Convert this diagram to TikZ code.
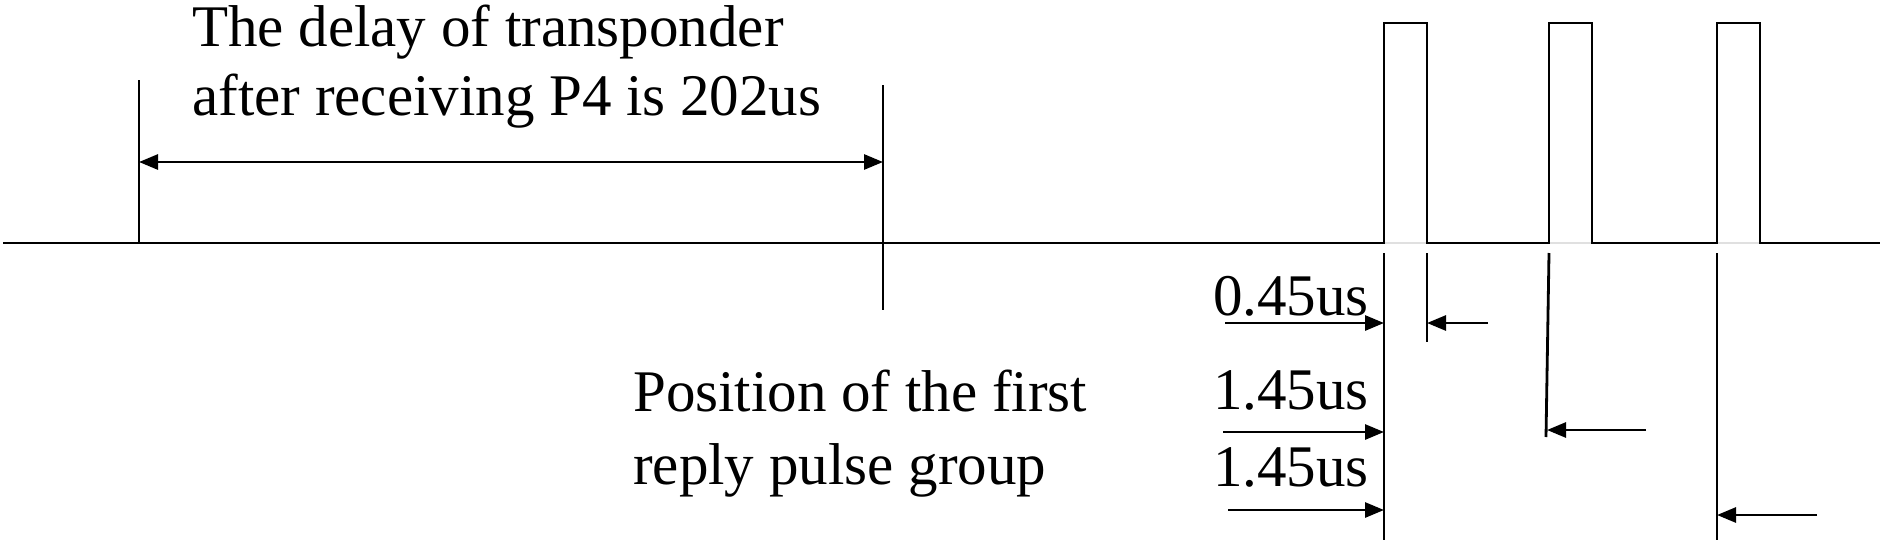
\documentclass[tikz,border=0pt]{standalone}
\usepackage{fontspec}
\setmainfont{Liberation Serif}
\usetikzlibrary{arrows.meta}
\begin{document}
\begin{tikzpicture}[x=1pt,y=-1pt,
  line/.style={line width=2.8pt, line cap=butt, line join=miter},
  dim/.style={line, -{Triangle[length=19pt,width=15pt]}},
  lbl/.style={inner sep=0pt, font=\fontsize{59}{70}\selectfont}]
\useasboundingbox (0,0) rectangle (1884,544);
% waveform
\coordinate (w0) at (3,243);
\coordinate (p1l) at (1384,243); \coordinate (p1r) at (1427,243);
\coordinate (p2l) at (1549,243); \coordinate (p2r) at (1592,243);
\coordinate (p3l) at (1717,243); \coordinate (p3r) at (1760,243);
\coordinate (w1) at (1880,243);
\draw[line width=2pt, black!12] (p1l) -- (p1r) (p2l) -- (p2r) (p3l) -- (p3r);
\draw[line] (w0) -- (p1l) -- (1384,23) -- (1427,23) -- (p1r) -- (p2l) -- (1549,23) -- (1592,23) -- (p2r)
  -- (p3l) -- (1717,23) -- (1760,23) -- (p3r) -- (w1);
% delay markers
\coordinate (ta) at (139,80); \coordinate (tab) at (139,243);
\coordinate (tb) at (883,85); \coordinate (tbb) at (883,310);
\draw[line] (ta) -- (tab);
\draw[line] (tb) -- (tbb);
\coordinate (da) at (139,162); \coordinate (db) at (883,162);
\draw[line, {Triangle[length=19pt,width=15pt]}-{Triangle[length=19pt,width=15pt]}] (da) -- (db);
\node[lbl, anchor=base west] (t1) at (192,46) {The delay of transponder};
\node[lbl, anchor=base west] (t2) at (192,115) {after receiving P4 is 202us};
% extension lines below pulses
\coordinate (e1t) at (1384,253); \coordinate (e1b) at (1384,540);
\coordinate (e2t) at (1427,253); \coordinate (e2b) at (1427,342);
\coordinate (e3t) at (1549,253); \coordinate (e3b) at (1546,437);
\coordinate (e4t) at (1717,253); \coordinate (e4b) at (1717,540);
\draw[line] (e1t) -- (e1b);
\draw[line] (e2t) -- (e2b);
\draw[line] (e3t) -- (e3b);
\draw[line] (e4t) -- (e4b);
% dimension arrows
\coordinate (a1s) at (1225,323); \coordinate (a1e) at (1384,323);
\coordinate (a2s) at (1223,432); \coordinate (a2e) at (1384,432);
\coordinate (a3s) at (1228,510); \coordinate (a3e) at (1384,510);
\draw[dim] (a1s) -- (a1e);
\draw[dim] (a2s) -- (a2e);
\draw[dim] (a3s) -- (a3e);
\coordinate (b1s) at (1488,323); \coordinate (b1e) at (1427,323);
\coordinate (b2s) at (1646,430); \coordinate (b2e) at (1547,430);
\coordinate (b3s) at (1817,515); \coordinate (b3e) at (1717,515);
\draw[dim] (b1s) -- (b1e);
\draw[dim] (b2s) -- (b2e);
\draw[dim] (b3s) -- (b3e);
\node[lbl, anchor=base east] (l1) at (1369,315) {0.45us};
\node[lbl, anchor=base east] (l2) at (1369,409) {1.45us};
\node[lbl, anchor=base east] (l3) at (1369,486) {1.45us};
\node[lbl, anchor=base west] (q1) at (633,411) {Position of the first};
\node[lbl, anchor=base west] (q2) at (633,484) {reply pulse group};
\end{tikzpicture}
\end{document}
